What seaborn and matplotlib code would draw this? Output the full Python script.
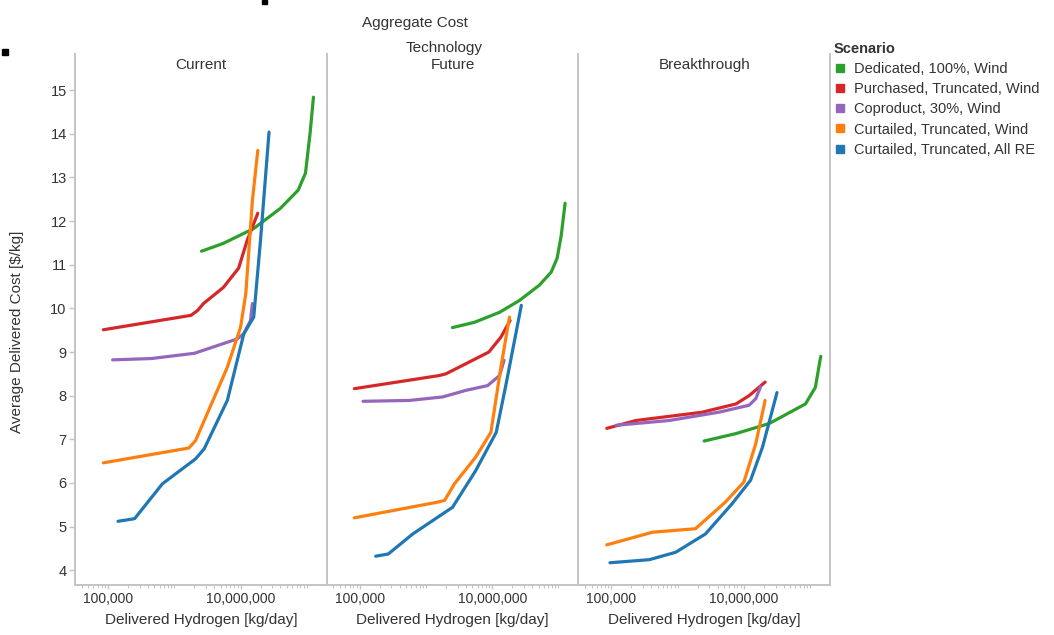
import matplotlib
matplotlib.use("Agg")
import matplotlib.pyplot as plt
import pandas as pd
import seaborn as sns
from matplotlib.lines import Line2D
from matplotlib.patches import Rectangle
from matplotlib.ticker import FixedLocator, FixedFormatter, LogLocator, NullFormatter

# ---- categories -----------------------------------------------------------
technologies = ["Current", "Future", "Breakthrough"]
scenarios = [
    "Dedicated, 100%, Wind",
    "Purchased, Truncated, Wind",
    "Coproduct, 30%, Wind",
    "Curtailed, Truncated, Wind",
    "Curtailed, Truncated, All RE",
]
palette = ["#2ca02c", "#d62728", "#9467bd", "#ff7f0e", "#1f77b4"]

# ---- Current technology: delivered H2 [kg/day] and cost [$/kg] ------------
cur_dedicated_h2 = [2_570_000, 5_500_000, 15_800_000, 39_800_000, 74_100_000, 95_500_000, 112_000_000, 126_000_000]
cur_dedicated_cost = [11.31, 11.49, 11.83, 12.29, 12.71, 13.10, 14.01, 14.84]
cur_purchased_h2 = [85_000, 1_780_000, 2_240_000, 2_750_000, 5_500_000, 9_330_000, 12_600_000, 18_200_000]
cur_purchased_cost = [9.51, 9.84, 9.95, 10.11, 10.48, 10.92, 11.56, 12.18]
cur_coproduct_h2 = [117_000, 447_000, 2_000_000, 8_910_000, 11_200_000, 14_100_000, 15_100_000]
cur_coproduct_cost = [8.82, 8.85, 8.97, 9.30, 9.42, 9.72, 10.11]
cur_curt_wind_h2 = [85_000, 1_660_000, 2_090_000, 6_310_000, 10_000_000, 12_000_000, 15_100_000, 18_200_000]
cur_curt_wind_cost = [6.46, 6.80, 6.97, 8.65, 9.57, 10.34, 12.48, 13.62]
cur_curt_all_h2 = [141_000, 251_000, 661_000, 2_090_000, 2_820_000, 6_310_000, 11_200_000, 15_800_000, 20_000_000, 26_900_000]
cur_curt_all_cost = [5.12, 5.18, 5.98, 6.55, 6.78, 7.89, 9.42, 9.80, 11.56, 14.04]

# ---- Future technology ----------------------------------------------------
fut_dedicated_h2 = [2_510_000, 5_370_000, 12_900_000, 25_700_000, 51_300_000, 77_600_000, 95_500_000, 110_000_000, 126_000_000]
fut_dedicated_cost = [9.56, 9.68, 9.91, 10.18, 10.53, 10.83, 11.15, 11.67, 12.41]
fut_purchased_h2 = [83_000, 1_580_000, 2_000_000, 3_980_000, 8_910_000, 13_500_000, 18_600_000]
fut_purchased_cost = [8.16, 8.46, 8.50, 8.73, 9.00, 9.34, 9.72]
fut_coproduct_h2 = [112_000, 562_000, 1_780_000, 3_980_000, 8_510_000, 12_900_000, 15_100_000]
fut_coproduct_cost = [7.87, 7.89, 7.97, 8.12, 8.23, 8.46, 8.81]
fut_curt_wind_h2 = [83_000, 1_510_000, 1_910_000, 2_690_000, 5_620_000, 9_550_000, 13_500_000, 18_200_000]
fut_curt_wind_cost = [5.20, 5.56, 5.60, 5.98, 6.59, 7.16, 8.65, 9.80]
fut_curt_all_h2 = [174_000, 269_000, 631_000, 2_510_000, 5_620_000, 11_500_000, 16_200_000, 27_500_000]
fut_curt_all_cost = [4.32, 4.37, 4.83, 5.44, 6.28, 7.16, 8.27, 10.07]

# ---- Breakthrough technology ----------------------------------------------
brk_dedicated_h2 = [2_510_000, 7_590_000, 24_000_000, 85_100_000, 120_000_000, 141_000_000, 145_000_000]
brk_dedicated_cost = [6.96, 7.13, 7.36, 7.81, 8.19, 8.81, 8.90]
brk_purchased_h2 = [85_000, 234_000, 2_340_000, 7_590_000, 12_000_000, 20_900_000]
brk_purchased_cost = [7.25, 7.43, 7.62, 7.81, 8.00, 8.31]
brk_coproduct_h2 = [117_000, 741_000, 4_170_000, 12_000_000, 15_100_000, 17_800_000]
brk_coproduct_cost = [7.32, 7.43, 7.62, 7.78, 7.93, 8.20]
brk_curt_wind_h2 = [85_000, 417_000, 1_860_000, 5_250_000, 10_000_000, 15_100_000, 20_900_000]
brk_curt_wind_cost = [4.58, 4.87, 4.95, 5.56, 6.02, 6.90, 7.89]
brk_curt_all_h2 = [95_000, 372_000, 933_000, 2_630_000, 6_610_000, 12_600_000, 19_100_000, 31_600_000]
brk_curt_all_cost = [4.17, 4.24, 4.41, 4.83, 5.52, 6.06, 6.82, 8.07]

y_ticks = [4, 5, 6, 7, 8, 9, 10, 11, 12, 13, 14, 15]
x_ticks = [1e5, 1e7]
x_tick_labels = ["100,000", "10,000,000"]

# ---- long-form table ------------------------------------------------------
series = {
    "Current": [
        (cur_dedicated_h2, cur_dedicated_cost),
        (cur_purchased_h2, cur_purchased_cost),
        (cur_coproduct_h2, cur_coproduct_cost),
        (cur_curt_wind_h2, cur_curt_wind_cost),
        (cur_curt_all_h2, cur_curt_all_cost),
    ],
    "Future": [
        (fut_dedicated_h2, fut_dedicated_cost),
        (fut_purchased_h2, fut_purchased_cost),
        (fut_coproduct_h2, fut_coproduct_cost),
        (fut_curt_wind_h2, fut_curt_wind_cost),
        (fut_curt_all_h2, fut_curt_all_cost),
    ],
    "Breakthrough": [
        (brk_dedicated_h2, brk_dedicated_cost),
        (brk_purchased_h2, brk_purchased_cost),
        (brk_coproduct_h2, brk_coproduct_cost),
        (brk_curt_wind_h2, brk_curt_wind_cost),
        (brk_curt_all_h2, brk_curt_all_cost),
    ],
}
rows = []
for tech in technologies:
    for scen, (xs, ys) in zip(scenarios, series[tech]):
        for order, (xv, yv) in enumerate(zip(xs, ys)):
            rows.append({"Technology": tech, "Scenario": scen, "order": order,
                         "Delivered Hydrogen": xv, "Cost": yv})
df = pd.DataFrame(rows)

# ---- styling --------------------------------------------------------------
sns.set_theme(style="white")
plt.rcParams["font.family"] = ["Liberation Sans", "DejaVu Sans"]
text_color = "#333333"
rule_color = "#c4c4c4"

W, H = 1054, 635
fig, axes = plt.subplots(1, 3, figsize=(W / 100, H / 100), dpi=100, sharey=True)
fig.subplots_adjust(left=75 / W, right=830 / W, top=1 - 54 / H, bottom=1 - 585 / H, wspace=0)

for i, (ax, tech) in enumerate(zip(axes, technologies)):
    sub = df[df["Technology"] == tech].sort_values(["Scenario", "order"])
    sns.lineplot(data=sub, x="Delivered Hydrogen", y="Cost", hue="Scenario",
                 hue_order=scenarios, palette=palette, estimator=None, sort=False,
                 linewidth=2.3, legend=False, ax=ax)
    ax.set_xscale("log")
    ax.set_xlim(10 ** 4.5, 10 ** 8.3)
    ax.set_ylim(3.66, 15.83)
    ax.xaxis.set_major_locator(FixedLocator(x_ticks))
    ax.xaxis.set_major_formatter(FixedFormatter(x_tick_labels))
    ax.xaxis.set_minor_locator(LogLocator(base=10, subs=range(1, 10), numticks=20))
    ax.xaxis.set_minor_formatter(NullFormatter())
    ax.tick_params(axis="x", which="major", direction="out", length=3, width=1,
                   color=rule_color, labelsize=10, labelcolor=text_color, pad=2, bottom=True)
    ax.tick_params(axis="x", which="minor", direction="out", length=2, width=0.8,
                   color=rule_color, bottom=True)
    ax.set_xlabel("Delivered Hydrogen [kg/day]", fontsize=11, color=text_color, labelpad=5)
    ax.set_ylabel("")
    ax.grid(False)
    for side in ["top", "right"]:
        ax.spines[side].set_visible(False)
    for side in ["left", "bottom"]:
        ax.spines[side].set_color(rule_color)
        ax.spines[side].set_linewidth(1.4)
    ax.text(0.5, 1 - 11 / 531, tech, transform=ax.transAxes, ha="center", va="center",
            fontsize=11, color=text_color)
    if i == 0:
        ax.set_yticks(y_ticks)
        ax.tick_params(axis="y", direction="out", length=4, width=1, color=rule_color,
                       labelsize=10.5, labelcolor=text_color, pad=2, left=True)
    else:
        ax.tick_params(axis="y", left=False, labelleft=False)
    if i == 2:
        ax.spines["right"].set_visible(True)
        ax.spines["right"].set_color(rule_color)
        ax.spines["right"].set_linewidth(1.4)

# ---- headers and axis title -------------------------------------------------
fig.text(415 / W, 1 - 23 / H, "Aggregate Cost", ha="center", va="center", fontsize=11, color=text_color)
fig.text(444 / W, 1 - 48 / H, "Technology", ha="center", va="center", fontsize=11, color=text_color)
fig.text(17 / W, 1 - 332 / H, "Average Delivered Cost [$/kg]", rotation=90,
         ha="center", va="center", fontsize=11, color=text_color)

# small black marks along the page edge
fig.patches.append(Rectangle((2 / W, 1 - 55 / H), 6 / W, 6 / H, color="black",
                             transform=fig.transFigure, figure=fig))
fig.patches.append(Rectangle((262 / W, 1 - 4 / H), 5 / W, 4 / H, color="black",
                             transform=fig.transFigure, figure=fig))

# ---- legend ---------------------------------------------------------------
handles = [Line2D([], [], marker="s", linestyle="", markersize=6, color=c) for c in palette]
leg = fig.legend(handles, scenarios, loc="upper left", bbox_to_anchor=(834 / W, 1 - 42 / H),
                 frameon=False, title="Scenario", fontsize=10.5, title_fontsize=10.5,
                 handlelength=0.8, handletextpad=0.6, labelspacing=0.42, borderaxespad=0,
                 borderpad=0, alignment="left")
leg.get_title().set_fontweight("bold")
leg.get_title().set_color(text_color)
for t in leg.get_texts():
    t.set_color(text_color)

fig.savefig("out.png", dpi=100)
